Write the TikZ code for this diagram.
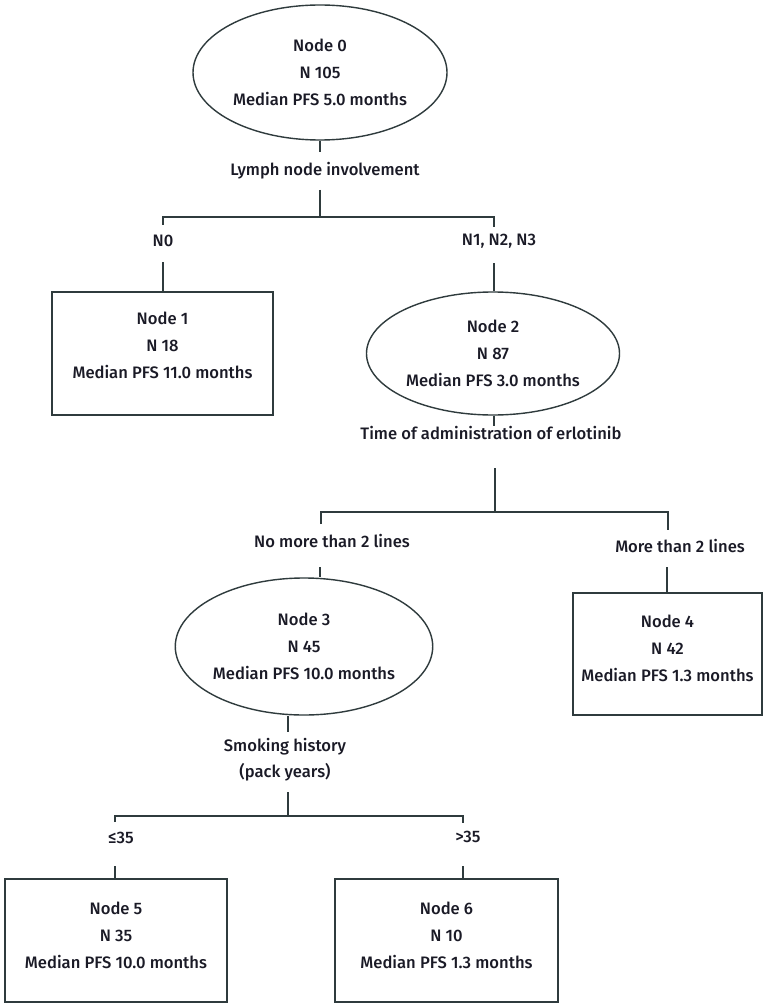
\documentclass[tikz,border=0pt]{standalone}
\usepackage{fontspec}
\setmainfont{Fira Sans Medium}
\usetikzlibrary{shapes.geometric}
\definecolor{linec}{HTML}{2F3B3D}
\definecolor{textc}{HTML}{1A1A26}
\begin{document}
\begin{tikzpicture}[x=1pt,y=-1pt,
  ell/.style={ellipse, draw=linec, line width=1.4pt, inner sep=0pt, text=textc, align=center, font=\fontsize{16.6}{27}\selectfont},
  boxnode/.style={rectangle, draw=linec, line width=1.4pt, inner sep=0pt},
  txt/.style={text=textc, align=center, font=\fontsize{16.6}{27}\selectfont, inner sep=0pt},
  lbl/.style={text=textc, align=center, font=\fontsize{16.6}{26}\selectfont, inner sep=0pt},
  conn/.style={draw=linec, line width=1.4pt}]
\fill[white] (0,0) rectangle (771,1008);
\useasboundingbox (0,0) rectangle (771,1008);

% nodes
\node[ell, minimum width=254, minimum height=135] (n0) at (320,72.5) {Node 0\\N 105\\Median PFS 5.0 months};
\node[boxnode, minimum width=221, minimum height=123] (n1) at (162.5,353.5) {};
\node[txt] (t1) at ([yshift=8pt]n1.center) {Node 1\\N 18\\Median PFS 11.0 months};
\node[ell, minimum width=253, minimum height=123] (n2) at (493,353.5) {Node 2\\N 87\\Median PFS 3.0 months};
\node[ell, minimum width=252, minimum height=137] (n3) at (304,646.5) {Node 3\\N 45\\Median PFS 10.0 months};
\node[boxnode, minimum width=189, minimum height=122] (n4) at (667.5,654) {};
\node[txt] (t4) at ([yshift=6pt]n4.center) {Node 4\\N 42\\Median PFS 1.3 months};
\node[boxnode, minimum width=222, minimum height=123] (n5) at (116,940.5) {};
\node[txt] (t5) at ([yshift=5pt]n5.center) {Node 5\\N 35\\Median PFS 10.0 months};
\node[boxnode, minimum width=223, minimum height=123] (n6) at (446.5,940.5) {};
\node[txt] (t6) at ([yshift=5pt]n6.center) {Node 6\\N 10\\Median PFS 1.3 months};

% labels
\node[lbl] (l0) at (325,171) {Lymph node involvement};
\node[lbl] (l1) at (163,241) {N0};
\node[lbl] (l2) at (499,241) {N1, N2, N3};
\node[lbl] (l3) at (491,433) {Time of administration of erlotinib};
\node[lbl] (l4) at (332,541) {No more than 2 lines};
\node[lbl] (l5) at (680,546) {More than 2 lines};
\node[lbl] (l6) at (285,760) {Smoking history\\(pack years)};
\node[lbl] (l7) at (121,838) {≤35};
\node[lbl] (l8) at (468,837) {>35};

% coordinates
\coordinate (a0) at (320,152);
\coordinate (b0) at (320,190);
\coordinate (s0) at (320,217);
\coordinate (s1) at (163,217);
\coordinate (s2) at (494,217);
\coordinate (t1a) at (163,225);
\coordinate (t2a) at (494,227);
\coordinate (b1) at (163,262);
\coordinate (b2) at (494,263);
\coordinate (a2) at (494,426);
\coordinate (b2c) at (495,468);
\coordinate (s2c) at (495,512);
\coordinate (s3) at (321,512);
\coordinate (s4) at (668,512);
\coordinate (t3a) at (321,524);
\coordinate (t4a) at (668,530);
\coordinate (b3) at (320,567);
\coordinate (b4) at (667,567);
\coordinate (a3) at (288,732);
\coordinate (b3c) at (288,792);
\coordinate (s3c) at (288,816);
\coordinate (s5) at (115,816);
\coordinate (s6) at (463,816);
\coordinate (t5a) at (115,822);
\coordinate (t6a) at (463,823);
\coordinate (b5) at (115,866);
\coordinate (b6) at (463,866);

% connectors
\draw[conn] (n0.south) -- (a0);
\draw[conn] (b0) -- (s0);
\draw[conn] (t1a) -- (s1) -- (s2) -- (t2a);
\draw[conn] (b1) -- (b1 |- n1.north);
\draw[conn] (b2) -- (b2 |- n2.north);
\draw[conn] (a2 |- n2.south) -- (a2);
\draw[conn] (b2c) -- (s2c);
\draw[conn] (t3a) -- (s3) -- (s4) -- (t4a);
\draw[conn] (b3) -- (b3 |- n3.north);
\draw[conn] (b4) -- (b4 |- n4.north);
\draw[conn] (a3 |- n3.south) -- (a3);
\draw[conn] (b3c) -- (s3c);
\draw[conn] (t5a) -- (s5) -- (s6) -- (t6a);
\draw[conn] (b5) -- (b5 |- n5.north);
\draw[conn] (b6) -- (b6 |- n6.north);
\end{tikzpicture}
\end{document}
